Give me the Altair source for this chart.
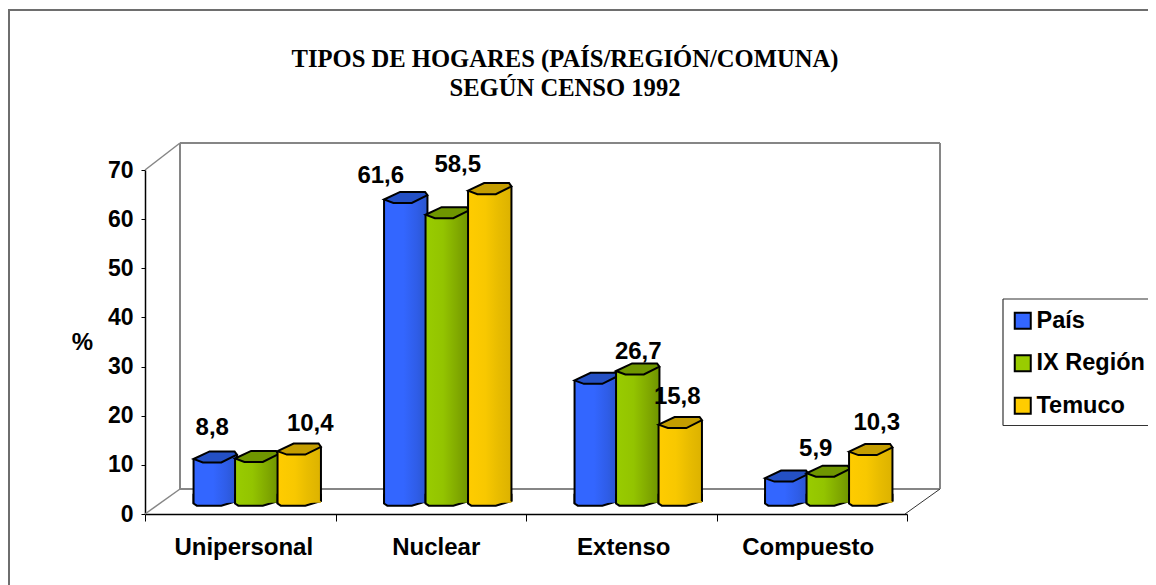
import altair as alt
import pandas as pd

categories = ["Unipersonal", "Nuclear", "Extenso", "Compuesto"]
series_names = ["País", "IX Región", "Temuco"]
pais = [8.8, 61.6, 24.8, 4.9]
ix_region = [8.9, 58.5, 26.7, 5.9]
temuco = [10.4, 63.4, 15.8, 10.3]

label_category = ["Unipersonal", "Unipersonal", "Nuclear", "Nuclear", "Extenso", "Extenso", "Compuesto", "Compuesto"]
label_value = [8.8, 10.4, 61.6, 58.5, 26.7, 15.8, 5.9, 10.3]
label_text = ["8,8", "10,4", "61,6", "58,5", "26,7", "15,8", "5,9", "10,3"]
title_lines = ["TIPOS DE HOGARES (PAÍS/REGIÓN/COMUNA)", "SEGÚN CENSO 1992"]

FONT = "Liberation Sans"
# page-pixel → plot-origin helpers for the 3D furniture
OX, OY = 145, 170
PLOT_W, PLOT_H = 762, 344


def line(x1, y1, x2, y2, color, width):
    return alt.Chart(pd.DataFrame({"a": [0]})).mark_rule(color=color, strokeWidth=width).encode(
        x=alt.value(x1 - OX), x2=alt.value(x2 - OX), y=alt.value(y1 - OY), y2=alt.value(y2 - OY)
    )


def grad(*stops):
    return alt.Gradient(
        gradient="linear", x1=0, x2=1, y1=0, y2=0,
        stops=[alt.GradientStop(offset=o, color=c) for o, c in stops],
    )


styles = {
    "País": (grad((0, "#3366ff"), (0.45, "#3366ff"), (0.75, "#2f5de8"), (1, "#2a55cc")), "#2450c4", "#3366ff", -25),
    "IX Región": (grad((0, "#99cc00"), (0.4, "#93c400"), (0.75, "#80a800"), (1, "#6f9400")), "#6f9600", "#99cc00", 16.5),
    "Temuco": (grad((0, "#ffcc00"), (0.4, "#f8c800"), (0.7, "#e8bc00"), (1, "#dcb200")), "#c49d00", "#ffcc00", 59),
}
rows = []
for name, vals in zip(series_names, [pais, ix_region, temuco]):
    for c, v in zip(categories, vals):
        rows.append({"cat": c, "series": name, "value": v, "base": 0})
df = pd.DataFrame(rows)

HW = 21.7
SIZE = (2 * HW) ** 2
BASE = -8.3
CAP = "M-1,-.16 L-.26,-.51 L.89,-.51 L1,-.36 L.28,0 L-.57,0 Z"
SIL = "M-1,-.16 L-.26,-.51 L.89,-.51 L1,-.36 L1,.08 L-1,.08 Z"
BOTTOM = "M-1,-.5 L-1,-.1 L-.85,0 L.28,0 L1,-.22 L1,-.5 Z"
STROKE = 2

x_enc = alt.X(
    "cat:N",
    scale=alt.Scale(domain=categories, paddingInner=0, paddingOuter=0),
    axis=alt.Axis(
        title=None, tickBand="extent", labelAngle=0, labelFont=FONT, labelFontWeight="bold",
        labelFontSize=24, labelColor="black", domainColor="black", domainWidth=1.5,
        tickColor="black", tickSize=7, tickWidth=1, labelPadding=14,
        labelOffset={"condition": [
            {"test": "datum.value == 'Nuclear'", "value": 5},
            {"test": "datum.value == 'Extenso'", "value": 2},
            {"test": "datum.value == 'Compuesto'", "value": -4},
        ], "value": 3},
    ),
)
y_axis = alt.Axis(
    title="%", titleAngle=0, titleX=-63, titleY=184, titleFont=FONT, titleFontSize=24,
    titleFontWeight="bold", titleColor="black", values=list(range(0, 80, 10)), grid=False,
    labelFont=FONT, labelFontWeight="bold", labelFontSize=23, labelColor="black",
    domainColor="black", domainWidth=1.5, tickColor="black", tickSize=4, labelPadding=8,
)
y_scale = alt.Scale(domain=[0, 70], nice=False)
y_enc = alt.Y("value:Q", scale=y_scale, axis=y_axis)
y_base = alt.Y("base:Q", scale=y_scale, axis=y_axis)

layers = [
    line(8, 10, 1148, 10, "#6e6e6e", 2),
    line(9, 10, 9, 585, "#6e6e6e", 2),
    line(180, 143, 940, 143, "#868686", 2),
    line(180, 143, 180, 489, "#868686", 2),
    line(940, 143, 940, 489, "#868686", 2),
    line(180, 489, 940, 489, "#868686", 2),
    line(145, 170, 180, 143, "#868686", 1.5),
    line(145, 514, 180, 489, "#868686", 1.5),
    line(905, 514, 940, 489, "#333333", 1),
    # legend box: open on the right, it runs off the picture
    line(1003, 299, 1148, 299, "#333333", 1.2),
    line(1003, 425.5, 1148, 425.5, "#333333", 1.2),
    line(1003, 299, 1003, 425.5, "#333333", 1.2),
]

for i, t in enumerate(title_lines):
    layers.append(alt.Chart(pd.DataFrame({"t": [t]})).mark_text(
        font="Liberation Serif", fontWeight="bold", fontSize=24.6, color="black", align="center", baseline="middle"
    ).encode(x=alt.value(565 - OX), y=alt.value(60 + 29 * i - OY), text="t:N"))

legend_layer = alt.Chart(df).mark_point(filled=True, opacity=0, size=1).encode(
    x=x_enc,
    y=y_enc,
    color=alt.Color(
        "series:N",
        scale=alt.Scale(domain=series_names, range=[styles[s][2] for s in series_names]),
        legend=alt.Legend(
            orient="none", legendX=1011 - OX, legendY=309 - OY, title=None, symbolType="square",
            symbolSize=256, symbolOpacity=1, symbolStrokeColor="black", symbolStrokeWidth=2,
            labelFont=FONT, labelFontWeight="bold", labelFontSize=23.5, labelColor="black",
            rowPadding=17.5, padding=0, labelOffset=2, labelLimit=200,
        ),
    ),
)
layers.append(legend_layer)

for name in series_names:
    g, cap_color, _, off = styles[name]
    sub = df[df["series"] == name]
    ch = alt.Chart(sub)
    common = {"x": x_enc, "y": y_enc}
    layers.append(ch.mark_point(shape=BOTTOM, size=SIZE, filled=True, fill=g, opacity=1, stroke="black",
                                strokeWidth=STROKE, xOffset=off, yOffset=BASE).encode(x=x_enc, y=y_base))
    layers.append(ch.mark_bar(size=2 * HW, fill=g, opacity=1, xOffset=off, yOffset=BASE, y2Offset=BASE - 3).encode(
        x=x_enc, y=y_enc, y2="base:Q"))
    layers.append(ch.mark_point(shape=SIL, size=SIZE, filled=True, fill=g, opacity=1, strokeOpacity=0,
                                xOffset=off, yOffset=BASE).encode(**common))
    layers.append(ch.mark_rule(color="black", strokeWidth=STROKE, xOffset=off - HW, yOffset=BASE - 3.5,
                               y2Offset=BASE - 2).encode(x=x_enc, y=y_enc, y2="base:Q"))
    layers.append(ch.mark_rule(color="black", strokeWidth=STROKE, xOffset=off + HW, yOffset=BASE - 7.8,
                               y2Offset=BASE - 4.5).encode(x=x_enc, y=y_enc, y2="base:Q"))
    layers.append(ch.mark_point(shape=CAP, size=SIZE, filled=True, fill=cap_color, opacity=1, stroke="black",
                                strokeWidth=STROKE, xOffset=off, yOffset=BASE).encode(**common))

nudges = [(-28, -42.8), (70, -39), (-50, -35), (27, -61.5), (17, -31), (56, -39), (4, -36), (65, -40)]
for c, v, t, (dx, dy) in zip(label_category, label_value, label_text, nudges):
    one = pd.DataFrame({"cat": [c], "value": [v], "text": [t]})
    layers.append(alt.Chart(one).mark_text(
        font=FONT, fontWeight="bold", fontSize=24, color="black", dx=dx, dy=dy, baseline="middle"
    ).encode(x=x_enc, y=y_enc, text="text:N"))

chart = alt.layer(*layers).properties(
    width=PLOT_W,
    height=PLOT_H,
    padding={"left": 137, "top": 162, "right": 241, "bottom": 71},
    autosize=alt.AutoSizeParams(type="none"),
    background="white",
).configure_view(stroke=None)

chart.save("out.html", embed_options={"renderer": "svg", "actions": False})
